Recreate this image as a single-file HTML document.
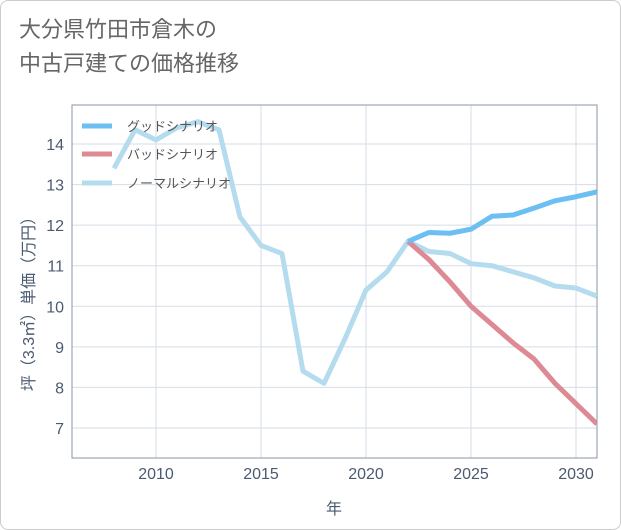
<!DOCTYPE html>
<html><head><meta charset="utf-8"><style>
body{margin:0;background:#fff;font-family:"Liberation Sans","Noto Sans CJK JP",sans-serif}
#wrap{position:relative;width:619px;height:528px;border:1px solid #ccc;border-radius:8px;overflow:hidden}
h1{position:absolute;left:18px;top:12px;margin:0;font-weight:normal;font-size:22px;line-height:34px;color:#666}
</style></head><body>
<div id="wrap">
<h1>大分県竹田市倉木の<br>中古戸建ての価格推移</h1>
<svg id="c" width="621" height="530" style="position:absolute;left:-1px;top:-1px"></svg>
</div>
<script>
const years=[2008,2009,2010,2011,2012,2013,2014,2015,2016,2017,2018,2019,2020,2021,2022,2023,2024,2025,2026,2027,2028,2029,2030,2031];
const normal=[13.4,14.35,14.1,14.4,14.55,14.35,12.2,11.5,11.3,8.4,8.1,9.2,10.4,10.85,11.6,11.35,11.3,11.05,11.0,10.85,10.7,10.5,10.45,10.25];
const goodYears=[2022,2023,2024,2025,2026,2027,2028,2029,2030,2031];
const good=[11.6,11.82,11.8,11.9,12.22,12.25,12.42,12.6,12.7,12.82];
const bad=[11.6,11.15,10.6,10.0,9.55,9.1,8.7,8.1,7.6,7.1];
const xTicks=[2010,2015,2020,2025,2030];
const yTicks=[7,8,9,10,11,12,13,14];
const L=72,R=597,T=105,B=458;
const x=v=>L+(v-2006)*(R-L)/25;
const y=v=>144+(14-v)*40.57;
const svg=document.getElementById('c');
const NS='http://www.w3.org/2000/svg';
function mk(t,a,p){const e=document.createElementNS(NS,t);for(const k in a)e.setAttribute(k,a[k]);(p||svg).appendChild(e);return e;}
const cp=mk('clipPath',{id:'cp'});mk('rect',{x:L,y:T,width:R-L,height:B-T},cp);
xTicks.forEach(v=>{const l=mk('line',{x1:x(v),x2:x(v),y1:T,y2:B,stroke:'#d5dde6'});


const t=mk('text',{x:x(v),y:479,'text-anchor':'middle','font-size':16,fill:'#4a5a70'});t.textContent=v;

});
yTicks.forEach(v=>{const l=mk('line',{x1:L,x2:R,y1:y(v),y2:y(v),stroke:'#d5dde6'});


const t=mk('text',{x:64,y:y(v)+6,'text-anchor':'end','font-size':16,fill:'#4a5a70'});t.textContent=v;

});
const ax=mk('rect',{x:L,y:T,width:R-L,height:B-T,fill:'none',stroke:'#8a96a6'});


function line(xs,vs,col,name){const p=mk('polyline',{points:xs.map((v,i)=>x(v)+','+y(vs[i])).join(' '),fill:'none',stroke:col,'stroke-width':5,'stroke-linejoin':'round','clip-path':'url(#cp)'});

}
line(years,normal,'#b5dcee','normal-scenario-line');
line(goodYears,bad,'#dc8a93','bad-scenario-line');
line(goodYears,good,'#6bbff2','good-scenario-line');
[['グッドシナリオ','#6bbff2',126],['バッドシナリオ','#dc8a93',154],['ノーマルシナリオ','#b5dcee',183]].forEach(([n,c,yy])=>{
const l=mk('line',{x1:82,x2:112,y1:yy,y2:yy,stroke:c,'stroke-width':5});


const t=mk('text',{x:127,y:yy+5,'font-size':13,fill:'#555'});t.textContent=n;

});
const xt=mk('text',{x:334,y:514,'text-anchor':'middle','font-size':16,fill:'#4a5a70'});xt.textContent='年';


const yt=mk('text',{x:0,y:0,transform:'translate(34,300) rotate(-90)','text-anchor':'middle','font-size':16,fill:'#4a5a70'});yt.textContent='坪（3.3㎡）単価（万円）';


</script>
</body></html>
